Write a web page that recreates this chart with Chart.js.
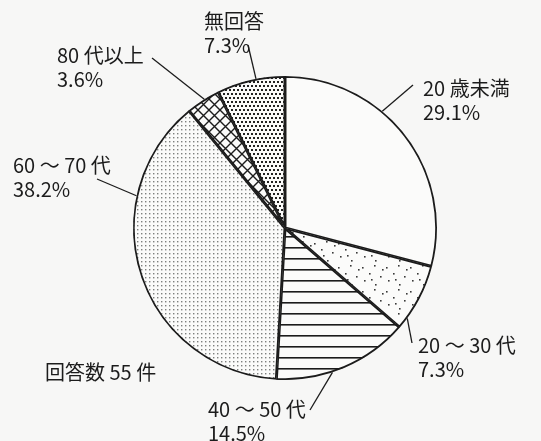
<!DOCTYPE html>
<html>
<head>
<meta charset="utf-8">
<script src="https://cdn.jsdelivr.net/npm/chart.js@4.4.1/dist/chart.umd.min.js"></script>
<style>
  html, body { margin: 0; padding: 0; background: #f7f7f6; }
  #wrap { width: 541px; height: 441px; position: relative; }
</style>
</head>
<body>
<div id="wrap"><canvas id="pie" width="541" height="441"></canvas></div>
<script>
// 年代別の回答 (回答数 55 件)
const categories = ["20 歳未満", "20 ～ 30 代", "40 ～ 50 代", "60 ～ 70 代", "80 代以上", "無回答"]
const counts = [16, 4, 8, 21, 2, 4]
const totalLabel = "回答数 55 件"

const total = counts.reduce((a, b) => a + b, 0)
const percents = counts.map(v => (v / total * 100).toFixed(1) + "%")

// label placement: text offset from pie centre, leader start offset, leader position inside slice (0..1)
const labelPlacement = [
  { tx: 138, ty: -132, lx: 128, ly: -143, frac: 0.38 },
  { tx: 133, ty: 125, lx: 127, ly: 115, frac: 0.83 },
  { tx: -77, ty: 189, lx: 25, ly: 182, frac: 0.59 },
  { tx: -272, ty: -55, lx: -188, ly: -49, frac: 0.72 },
  { tx: -228, ty: -165, lx: -133, ly: -170, frac: 0.55 },
  { tx: -81, ty: -199, lx: -37, ly: -183, frac: 0.58 },
]

const INK = "#1c1c1c"
const FONT = '20px "Noto Sans CJK JP", "Noto Sans", sans-serif'

const tile = (w, h, draw) => {
  const c = document.createElement("canvas")
  c.width = w
  c.height = h
  const g = c.getContext("2d")
  g.fillStyle = "#fbfbfa"
  g.fillRect(0, 0, w, h)
  draw(g)
  return document.getElementById("pie").getContext("2d").createPattern(c, "repeat")
}

const patterns = [
  // white
  tile(8, 8, g => {}),
  // sparse dots
  tile(24, 24, g => {
    g.fillStyle = "#3a3a3a"
    ;[[2, 3], [14, 1], [9, 9], [20, 12], [4, 16], [15, 20], [22, 5], [11, 15]].forEach(([x, y]) => g.fillRect(x, y, 1.6, 1.6))
  }),
  // horizontal lines
  tile(8, 11, g => {
    g.fillStyle = INK
    g.fillRect(0, 5, 8, 1.6)
  }),
  // fine grey dots
  tile(4, 4, g => {
    g.fillStyle = "#7e807e"
    g.fillRect(1, 1, 1.4, 1.4)
  }),
  // diagonal cross hatch
  tile(11, 11, g => {
    g.strokeStyle = INK
    g.lineWidth = 1.4
    g.beginPath()
    g.moveTo(-1, -1); g.lineTo(12, 12)
    g.moveTo(12, -1); g.lineTo(-1, 12)
    g.stroke()
  }),
  // dense dark dots
  tile(8, 8, g => {
    g.fillStyle = "#222"
    g.fillRect(1, 1, 2, 2)
    g.fillRect(5, 1, 2, 2)
    g.fillRect(3, 5, 2, 2)
    g.fillRect(7, 5, 2, 2)
    g.fillRect(-1, 5, 2, 2)
  }),
]

const calloutPlugin = {
  id: "callouts",
  afterDatasetsDraw(chart) {
    const ctx = chart.ctx
    const arcs = chart.getDatasetMeta(0).data
    ctx.save()
    ctx.font = FONT
    ctx.fillStyle = INK
    ctx.strokeStyle = INK
    ctx.lineWidth = 1.3
    ctx.textAlign = "left"
    ctx.textBaseline = "alphabetic"
    arcs.forEach((arc, i) => {
      const p = labelPlacement[i]
      const cx = arc.x, cy = arc.y, r = arc.outerRadius
      const a = arc.startAngle + (arc.endAngle - arc.startAngle) * p.frac
      ctx.beginPath()
      ctx.moveTo(cx + p.lx, cy + p.ly)
      ctx.lineTo(cx + r * Math.cos(a), cy + r * Math.sin(a))
      ctx.stroke()
      ctx.fillText(categories[i], cx + p.tx, cy + p.ty)
      ctx.fillText(percents[i], cx + p.tx, cy + p.ty + 23.5)
    })
    const c = arcs[0]
    ctx.fillText(totalLabel, c.x - 240, c.y + 152)
    ctx.restore()
  },
}

new Chart(document.getElementById("pie"), {
  type: "pie",
  data: {
    labels: categories,
    datasets: [
      {
        data: counts,
        backgroundColor: patterns,
        borderColor: INK,
        borderWidth: 1.5,
        borderAlign: "inner",
      },
    ],
  },
  options: {
    responsive: false,
    animation: false,
    layout: { padding: { left: 133, top: 76, right: 104, bottom: 61 } },
    plugins: {
      legend: { display: false },
      tooltip: { enabled: false },
    },
  },
  plugins: [calloutPlugin],
})
</script>
</body>
</html>
